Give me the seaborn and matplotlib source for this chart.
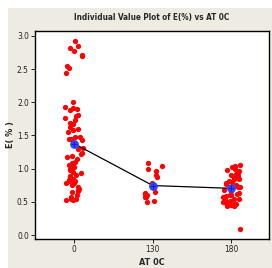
import numpy as np
import pandas as pd
import seaborn as sns
import matplotlib.pyplot as plt
from matplotlib.patches import Rectangle

sns.set_style("white")
plt.rcParams['font.family'] = ['DejaVu Sans']
plt.rcParams['font.stretch'] = 'condensed'

# values
e_0 = [2.93, 2.85, 2.82, 2.77, 2.71, 2.70, 2.55, 2.51, 2.44,
       2.00, 1.93, 1.91, 1.90, 1.88, 1.81, 1.80, 1.76, 1.73, 1.69, 1.67,
       1.63, 1.60, 1.58, 1.56, 1.48, 1.47, 1.45, 1.45, 1.43, 1.43,
       1.31, 1.29, 1.23, 1.22, 1.19, 1.18, 1.14, 1.10, 1.08, 1.06, 1.05,
       1.02, 1.00, 0.98, 0.95, 0.93, 0.91, 0.89, 0.87, 0.85, 0.83, 0.82,
       0.81, 0.79, 0.78, 0.75, 0.72, 0.69, 0.68, 0.66, 0.65, 0.60, 0.57,
       0.55, 0.54, 0.53, 0.53]
e_130 = [1.09, 1.04, 0.99, 0.97, 0.91, 0.87, 0.79, 0.65, 0.63, 0.62,
         0.60, 0.60, 0.58, 0.57, 0.52, 0.50]
e_180 = [1.05, 1.04, 1.02, 1.00, 0.98, 0.96, 0.94, 0.92, 0.90, 0.89,
         0.87, 0.86, 0.85, 0.84, 0.82, 0.80, 0.79, 0.77, 0.76, 0.74,
         0.73, 0.72, 0.70, 0.68, 0.66, 0.64, 0.62, 0.61, 0.60, 0.59,
         0.58, 0.57, 0.55, 0.54, 0.53, 0.52, 0.50, 0.48, 0.47, 0.46,
         0.45, 0.44, 0.43, 0.09]
groups = ['0', '130', '180']

df = pd.DataFrame({
    'AT': ['0'] * len(e_0) + ['130'] * len(e_130) + ['180'] * len(e_180),
    'E': e_0 + e_130 + e_180,
})

fig = plt.figure(figsize=(2.72, 2.68), dpi=100, facecolor='white')
fig.patches.append(Rectangle((8 / 272, 0), 1, 260 / 268, transform=fig.transFigure,
                             facecolor='#EEEBE2', edgecolor='none', zorder=-5))
ax = fig.add_axes([35 / 272, 29 / 268, 234 / 272, 208 / 268])
ax.set_zorder(2)

np.random.seed(3)
sns.stripplot(data=df, x='AT', y='E', order=groups, color='#FF0000', size=3.8,
              jitter=0.12, linewidth=0, ax=ax, zorder=2)
sns.pointplot(data=df, x='AT', y='E', order=groups, errorbar=None, color='black',
              markers='none', linewidth=0.9, ax=ax)
sns.pointplot(data=df, x='AT', y='E', order=groups, errorbar=None, color='#3344FF',
              markers='o', linestyles='none', markersize=4.3, ax=ax)
sns.pointplot(data=df, x='AT', y='E', order=groups, errorbar=None, color='#1122BB',
              markers='+', linestyles='none', markersize=4.3, markeredgewidth=0.7, ax=ax)

ax.set_xlim(-0.5, 2.48)
ax.set_ylim(-0.06, 3.075)
ax.set_yticks([0.0, 0.5, 1.0, 1.5, 2.0, 2.5, 3.0])
ax.set_yticklabels(['0.0', '0.5', '1.0', '1.5', '2.0', '2.5', '3.0'])
ax.tick_params(axis='both', direction='out', length=3, width=0.7, labelsize=6,
               colors='#222222', pad=1.5, left=True, bottom=True)
ax.set_facecolor('white')
for s in ax.spines.values():
    s.set_color('black')
    s.set_linewidth(1.0)

ax.set_xlabel('AT 0C', fontsize=6.5, fontweight='bold', labelpad=3)
ax.set_ylabel('E( % )', fontsize=6.5, fontweight='bold')
ax.yaxis.set_label_coords(-20 / 234, 0.5)
ax.set_title('Individual Value Plot of E(%) vs AT 0C', fontsize=5.9,
             fontweight='bold', pad=8)

fig.savefig('out.png', dpi=100, facecolor=fig.get_facecolor())
